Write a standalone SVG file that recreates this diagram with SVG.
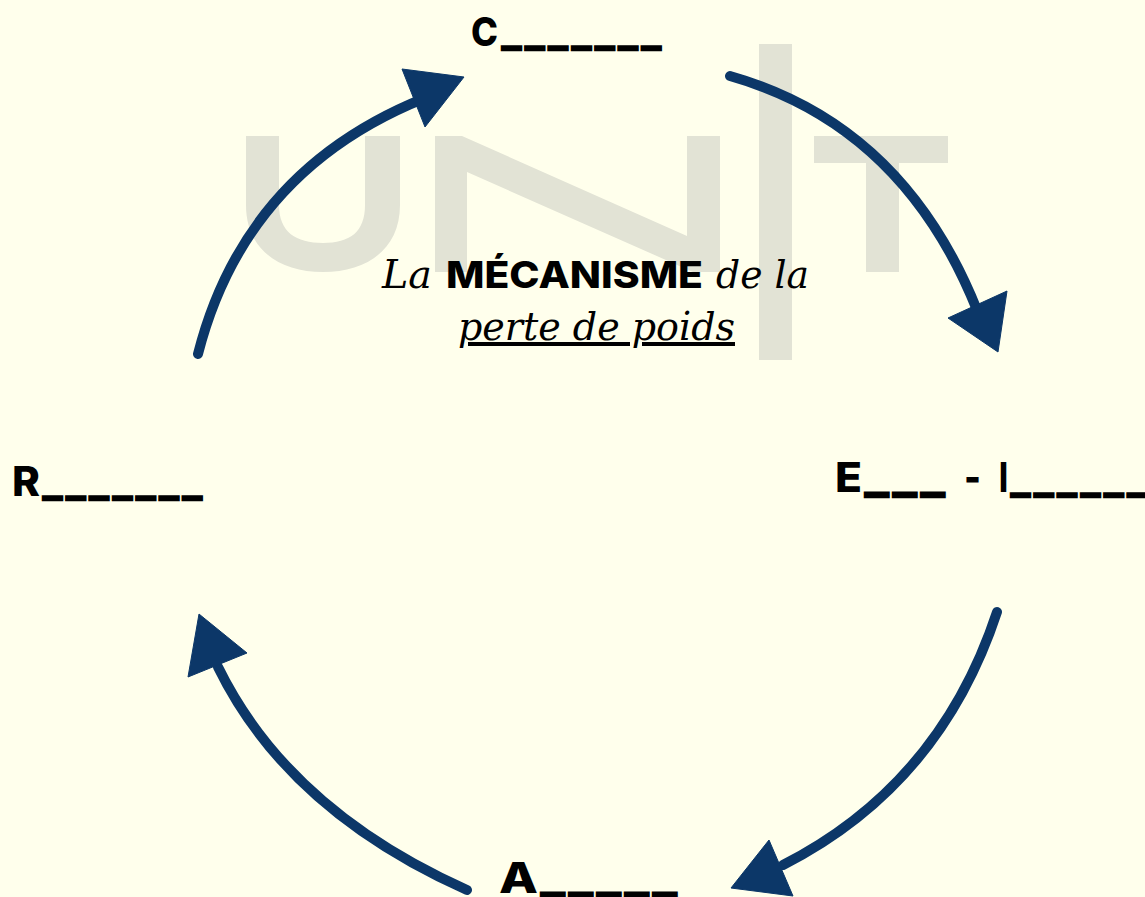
<svg xmlns="http://www.w3.org/2000/svg" width="1145" height="897" viewBox="0 0 1145 897">
<style>
.wm{fill:#e2e3d5}
.arc{fill:none;stroke:#0c3768;stroke-width:10;stroke-linecap:round}
.head{fill:#0c3768;stroke:#0c3768;stroke-width:1;stroke-linejoin:round}
.lab{font-family:"Inter","Liberation Sans",sans-serif;font-weight:800;fill:#000}
.us{font-family:"DejaVu Sans",sans-serif;font-weight:700;font-size:38px;letter-spacing:4.3px;fill:#000;stroke:#000;stroke-width:2.5px}
.usw{font-size:47px;letter-spacing:4.5px}
.ser{font-family:"DejaVu Serif","Liberation Serif",serif;font-style:italic;fill:#000;font-size:40px}
</style>
<rect width="1145" height="897" fill="#ffffec"/>
<g id="watermark">
<path class="wm" d="M246 136H279V205C279 232 296 243 323 243C350 243 365 232 365 205V136H400V205C400 250 366 272 323 272C280 272 246 250 246 205Z"/>
<path class="wm" d="M435 136H462L687 236V136H720V272H693L467 172V272H435Z"/>
<rect class="wm" x="759" y="44" width="33" height="316"/>
<path class="wm" d="M814 136H948V163H899V272H866V163H814Z"/>
</g>
<g id="connectors">
<path class="arc" d="M198 354Q245 170 425 98"/>
<polygon class="head" points="464,77 402,69 425,127"/>
<path class="arc" d="M730 76Q903 125 977 310"/>
<polygon class="head" points="998,352 1007,291 948,318"/>
<path class="arc" d="M997 612Q940 785 783 865"/>
<polygon class="head" points="731,888 769,840 793,896"/>
<path class="arc" d="M467 890Q288 810 218 667"/>
<polygon class="head" points="199,614 188,677 247,653"/>
</g>
<g id="node-c"><text x="471" y="46" class="lab" font-size="39" textLength="27" lengthAdjust="spacingAndGlyphs">C</text><text x="502" y="41" class="us">_______</text></g>
<g id="node-e"><text x="835" y="492" class="lab" font-size="41" textLength="27" lengthAdjust="spacingAndGlyphs">E</text><text x="865" y="486" class="us usw">___</text><text x="964" y="492" class="lab" font-size="41" textLength="17" lengthAdjust="spacingAndGlyphs">-</text><text x="999" y="492" class="lab" font-size="41" textLength="9" lengthAdjust="spacingAndGlyphs">I</text><text x="1011" y="488" class="us">______</text></g>
<g id="node-a"><text x="499" y="893" class="lab" font-size="42" textLength="39" lengthAdjust="spacingAndGlyphs">A</text><text x="541" y="886" class="us usw">_____</text></g>
<g id="node-r"><text x="12" y="496" class="lab" font-size="41" textLength="28" lengthAdjust="spacingAndGlyphs">R</text><text x="43" y="491" class="us">_______</text></g>
<g id="title">
<text x="382" y="288" class="ser" textLength="50" lengthAdjust="spacingAndGlyphs">La</text>
<text x="446" y="288" class="lab" font-size="37" textLength="257" lengthAdjust="spacingAndGlyphs">MÉCANISME</text>
<text x="716" y="288" class="ser" textLength="93" lengthAdjust="spacingAndGlyphs">de la</text>
<text x="458" y="340" class="ser" text-decoration="underline" textLength="277" lengthAdjust="spacingAndGlyphs">perte de poids</text>
</g>
</svg>
